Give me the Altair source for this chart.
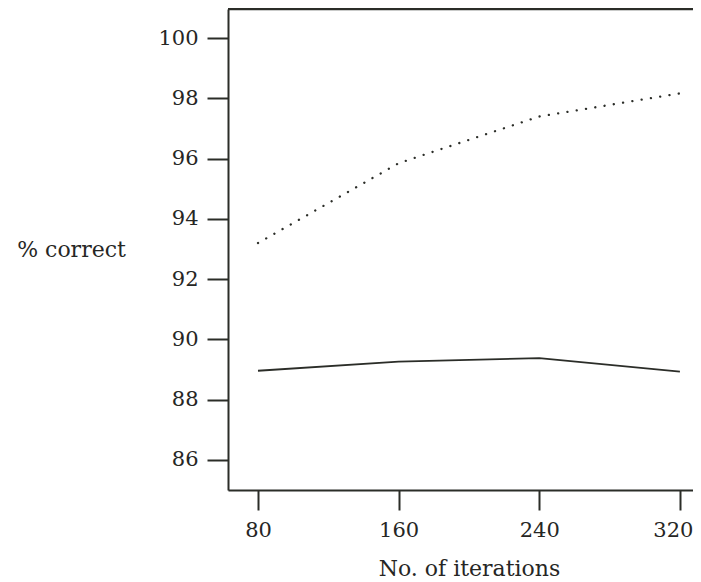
import altair as alt
import pandas as pd

iterations = [80, 160, 240, 320]
dotted_values = [93.2, 95.85, 97.4, 98.17]
solid_values = [88.96, 89.26, 89.38, 88.93]

x_ticks = [80, 160, 240, 320]
y_ticks = [86, 88, 90, 92, 94, 96, 98, 100]

df_dot = pd.DataFrame({"iter": iterations, "pct": dotted_values})
df_sol = pd.DataFrame({"iter": iterations, "pct": solid_values})

FONT = "DejaVu Serif"
INK = "#2b2d28"
TXT = "#262624"

xs = alt.Scale(domain=[62.94, 327.45], nice=False, zero=False)
ys = alt.Scale(domain=[85.0, 100.97], nice=False, zero=False)

x_axis = alt.Axis(
    values=x_ticks, grid=False, tickSize=20, tickWidth=2, domainWidth=2,
    domainColor=INK, tickColor=INK, labelFont=FONT, labelFontSize=21,
    labelColor=TXT, labelPadding=9,
    labelOffset={"condition": {"test": "datum.value === 320", "value": -7}, "value": 0},
    title="No. of iterations",
    titleFont=FONT, titleFontSize=22, titleFontWeight="normal", titleColor=TXT,
    titleX=241, titleY=85, titleAlign="center", titleBaseline="alphabetic",
)
y_axis = alt.Axis(
    values=y_ticks, grid=False, tickSize=21, tickWidth=2, domainWidth=2,
    domainColor=INK, tickColor=INK, labelFont=FONT, labelFontSize=21,
    labelColor=TXT, labelPadding=9, title="% correct",
    titleFont=FONT, titleFontSize=22, titleFontWeight="normal", titleColor=TXT,
    titleAngle=0, titleX=-157, titleY=240, titleAlign="center",
    titleBaseline="middle",
)

dotted = alt.Chart(df_dot).mark_line(
    color=INK, strokeWidth=2.3, strokeDash=[0.1, 9.3], strokeCap="round"
).encode(
    x=alt.X("iter:Q", scale=xs, axis=x_axis),
    y=alt.Y("pct:Q", scale=ys, axis=y_axis),
)

solid = alt.Chart(df_sol).mark_line(color=INK, strokeWidth=1.8).encode(
    x=alt.X("iter:Q", scale=xs),
    y=alt.Y("pct:Q", scale=ys),
)

top = alt.Chart(pd.DataFrame({"a": [0]})).mark_rule(
    color=INK, strokeWidth=2.5
).encode(x=alt.value(0), x2=alt.value(465), y=alt.value(0))

chart = alt.layer(dotted, solid, top).properties(
    width=465, height=481,
    autosize=alt.AutoSizeParams(type="none"),
    padding={"left": 220, "top": 1, "right": 0, "bottom": 90},
).configure_view(stroke=None).configure(background="white")

chart.save("out.html", embed_options={"renderer": "svg", "actions": False})
